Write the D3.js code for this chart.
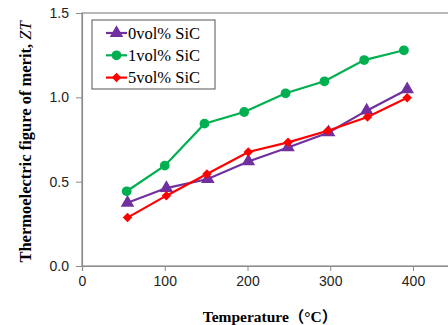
<!DOCTYPE html>
<html>
<head>
<meta charset="utf-8">
<script src="https://cdn.jsdelivr.net/npm/d3@7"></script>
<style>
  body { margin: 0; background: white; }
</style>
</head>
<body>
<script>
// data
const tempSiC0 = [55, 102, 152, 201, 249, 298, 344, 393];
const zt0      = [0.375, 0.462, 0.516, 0.620, 0.703, 0.792, 0.921, 1.047];
const tempSiC1 = [54, 100, 148, 196, 246, 293, 341, 389];
const zt1      = [0.443, 0.595, 0.844, 0.913, 1.024, 1.095, 1.221, 1.279];
const tempSiC5 = [55, 102, 151, 201, 249, 297, 345, 393];
const zt5      = [0.287, 0.417, 0.545, 0.676, 0.733, 0.802, 0.883, 0.998];
const xTicks = [0, 100, 200, 300, 400];
const yTicks = [0.0, 0.5, 1.0, 1.5];
const seriesNames = ["0vol% SiC", "1vol% SiC", "5vol% SiC"];

const series = [
    {name: seriesNames[0], t: tempSiC0, v: zt0, color: "#7030a0", marker: d3.symbolTriangle, size: 80, rot: 0},
    {name: seriesNames[1], t: tempSiC1, v: zt1, color: "#00b050", marker: d3.symbolCircle, size: 75, rot: 0},
    {name: seriesNames[2], t: tempSiC5, v: zt5, color: "#ff0000", marker: d3.symbolSquare, size: 45, rot: 45}
];

const width = 448, height = 325;
const svg = d3.select("body").append("svg").attr("width", width).attr("height", height);

const xScale = d3.scaleLinear().domain([0, 500]).range([82, 82 + 413.75]);
const yScale = d3.scaleLinear().domain([0, 1.5]).range([266, 13]);

// plot border
svg.append("rect")
    .attr("x", xScale(0)).attr("y", yScale(1.5))
    .attr("width", xScale(500) - xScale(0)).attr("height", yScale(0) - yScale(1.5))
    .attr("fill", "none").attr("stroke", "#8c8c8c").attr("stroke-width", 1.2);

// axes
const xAxis = d3.axisBottom(xScale).tickValues(xTicks).tickSize(5).tickPadding(5).tickFormat(d3.format("d"));
const yAxis = d3.axisLeft(yScale).tickValues(yTicks).tickSize(6).tickPadding(7).tickFormat(d3.format(".1f"));
const xg = svg.append("g").attr("transform", `translate(0, ${yScale(0)})`).call(xAxis);
const yg = svg.append("g").attr("transform", `translate(${xScale(0)}, 0)`).call(yAxis);
[xg, yg].forEach(g => {
    g.select(".domain").attr("stroke", "#8c8c8c").attr("stroke-width", 1.2);
    g.selectAll(".tick line").attr("stroke", "#8c8c8c");
    g.selectAll(".tick text").attr("font-family", "Liberation Sans, Arial, sans-serif")
        .attr("font-size", "14px").attr("fill", "#222");
});

// series lines and markers
const line = d3.line().x(d => xScale(d[0])).y(d => yScale(d[1]));
series.forEach(s => {
    const pts = s.t.map((t, i) => [t, s.v[i]]);
    svg.append("path").datum(pts).attr("d", line)
        .attr("fill", "none").attr("stroke", s.color).attr("stroke-width", 2.2);
    svg.selectAll(null).data(pts).join("path")
        .attr("d", d3.symbol().type(s.marker).size(s.size))
        .attr("transform", d => `translate(${xScale(d[0])}, ${yScale(d[1])}) rotate(${s.rot})`)
        .attr("fill", s.color);
});

// legend
const legend = svg.append("g");
legend.append("rect").attr("x", 92).attr("y", 20).attr("width", 123).attr("height", 69)
    .attr("fill", "white").attr("stroke", "#555").attr("stroke-width", 1);
series.forEach((s, i) => {
    const y = 33 + i * 22.3;
    legend.append("line").attr("x1", 106).attr("x2", 127).attr("y1", y).attr("y2", y)
        .attr("stroke", s.color).attr("stroke-width", 2.2);
    legend.append("path").attr("d", d3.symbol().type(s.marker).size(s.size))
        .attr("transform", `translate(116.5, ${y}) rotate(${s.rot})`).attr("fill", s.color);
    legend.append("text").attr("x", 128).attr("y", y + 5.5)
        .attr("font-family", "Liberation Serif, Times New Roman, serif").attr("font-size", "16.5px")
        .attr("fill", "#000").text(s.name);
});

// axis titles
const ytitle = svg.append("text")
    .attr("transform", "translate(31, 142) rotate(-90)")
    .attr("text-anchor", "middle")
    .attr("font-family", "Liberation Serif, Times New Roman, serif")
    .attr("font-size", "16.5px").attr("font-weight", "bold");
ytitle.append("tspan").text("Thermoelectric figure of merit,  ");
ytitle.append("tspan").attr("font-style", "italic").attr("font-weight", "normal").text("ZT");

svg.append("text")
    .attr("x", 270).attr("y", 322)
    .attr("text-anchor", "middle")
    .attr("font-family", "Liberation Serif, Times New Roman, Noto Sans CJK SC, serif")
    .attr("font-size", "15.5px").attr("font-weight", "bold")
    .text("Temperature（°C）");
</script>
</body>
</html>
